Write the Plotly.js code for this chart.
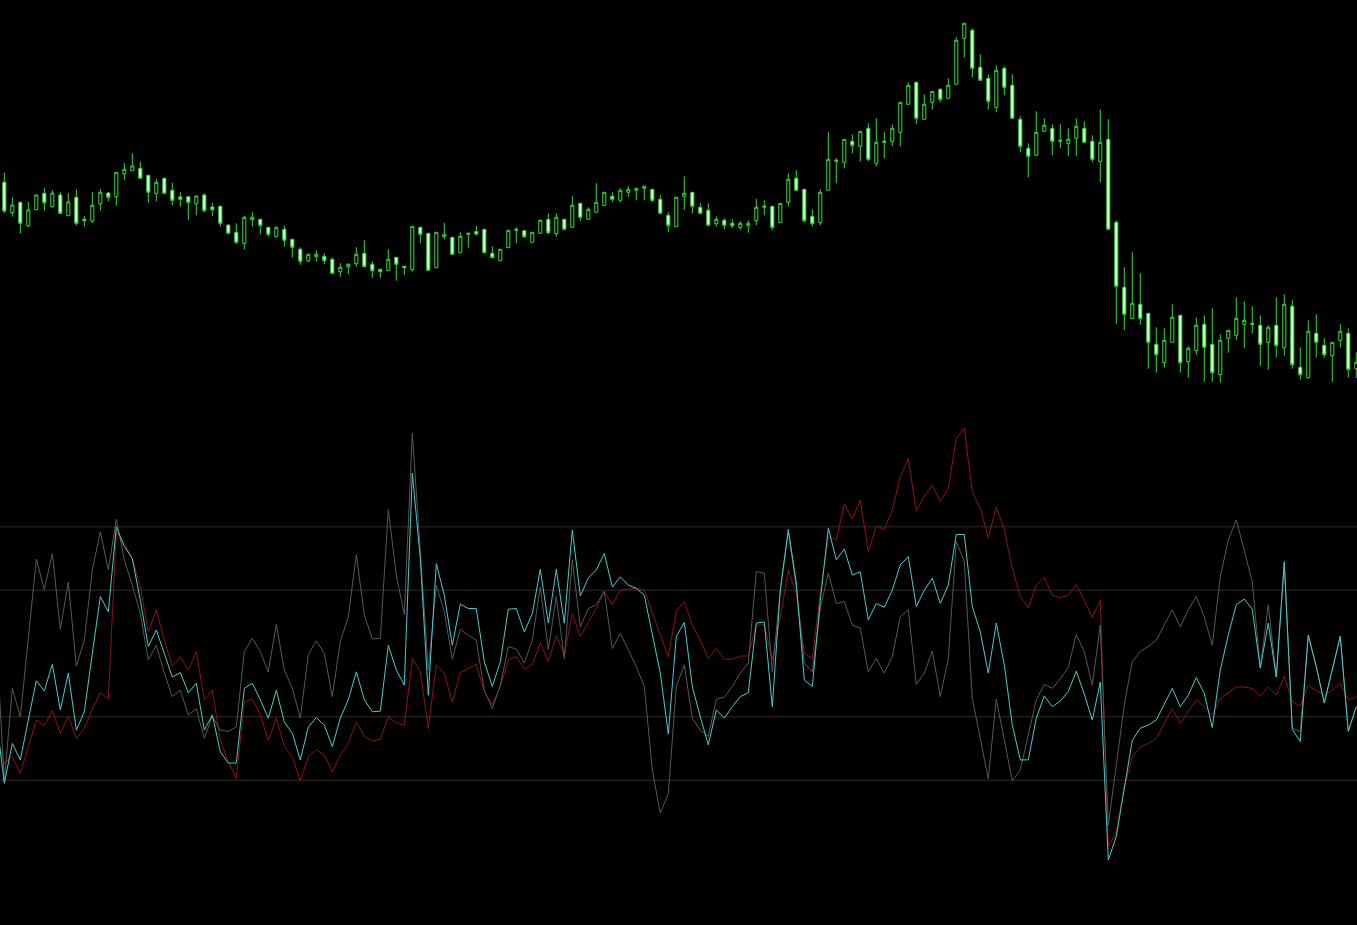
<!DOCTYPE html>
<html>
<head>
<meta charset="utf-8">
<script src="https://cdn.plot.ly/plotly-3.0.1.min.js"></script>
<style>
html,body{margin:0;padding:0;background:#000;overflow:hidden;}
#chart{width:1357px;height:925px;}
</style>
</head>
<body>
<div id="chart"></div>
<script>
// ---- Price candles (arbitrary price units) ----
const openP = [217.7,187.3,197.7,174.3,190.3,206.7,193.3,205,184.3,202.7,
180.7,179,196.3,207,203.3,226.3,229.3,231.7,224.7,206.7,
221.7,209.7,203,203.3,196.3,205,193,193.7,175,167.7,
156.7,180.3,180.7,172.7,163.3,170.7,160.7,150.7,139,143.3,
143.7,140.7,128.3,133.3,136.3,146.7,135.7,130.7,129.3,142.7,
133.7,130.3,172.7,166.7,132.3,163.3,162.7,147.3,165.7,168.3,
170.7,146.7,139.3,152.3,169.7,169.3,157.7,166.7,180.7,166.3,
180.7,172.7,196.7,180.7,187.7,194.7,203.7,199.7,207.7,209.7,
211.7,210.7,200.7,184.7,173.3,203.7,207.7,192.7,189.7,176.3,
179.7,176.7,172.7,174.7,179.3,192.7,193.7,177.3,197.7,221.7,
210.7,183.7,177.3,209.7,238.7,237.7,258.7,253.7,271.7,236.7,
258.7,258.7,267.7,295.7,317.7,280.7,297.7,310.7,301.7,315.7,
361.7,369.7,332.7,321.7,292.7,331.7,314.7,280.7,251.7,244.7,
268.7,271.7,258.7,256.7,261.7,271.7,258.7,238.7,260.7,177.7,
112.7,81.3,95.7,86.7,55.7,37.3,57.7,84.7,38.3,49.3,
75.7,55.7,25.3,61.7,64.7,75.7,76.7,74.7,57.7,74.7,
52.3,93.7,32.7,22.3,66.7,54.7,44.3,59.7,66.7,31.3];
const highP = [227.3,202.7,197.7,198,205,212.3,210,207.7,206.7,210.7,
184,208,211,208,227.7,237,246.7,238,224.7,221,
221.7,217,207.7,203.3,204,206.7,197,193.7,175,176.7,
184,188,180.7,172.7,173.3,174,160.7,152.7,146,149.7,
146.7,142.7,136.7,136.7,152.7,159.7,138.7,130.7,150.7,142.7,
133.7,173.7,172.7,166.7,168,177,162.7,167.7,166.7,174,
170.7,153.7,150.7,169.7,172.7,169.3,167.7,180.7,186.7,186.7,
180.7,203.7,196.7,192.7,216.7,208,207.7,211.7,214,211.7,
213.7,210.7,204.7,187.7,202.7,223.7,207.7,196.7,196.7,183.7,
181.7,180.7,178.7,179.7,201,199.7,193.7,196.7,226.7,229.7,
210.7,190.7,210.7,267.7,241.7,260.7,265.7,268.7,276.7,281.7,
267.7,275.7,297.7,317.7,317.7,305.7,308.7,311.7,321.7,362.7,
376.7,371.7,345.7,325.7,334.7,333.7,325.7,283.7,256.7,288.7,
281.7,275.7,275.7,271.7,281.7,278.7,264.7,290.7,280.7,179.7,
132.7,147.7,126.7,86.7,72.7,71.7,95.7,84.7,53.7,82.7,
84.7,91.7,65.7,69.7,102.7,98.7,93.7,84.7,74.7,102.7,
105.7,99.7,52.7,79.7,85.7,61.7,57.7,75.7,71.7,47.7];
const lowP = [186.7,183.3,166.7,172.7,190,189.3,192.3,186,184.3,174.3,
173.3,177,189.3,198.7,194.3,220,229.3,221.7,197.3,199,
206.7,194.7,193.3,180,184.7,187.7,184,173.3,166.7,155.7,
150.7,173.3,165.7,163.3,163.3,153.3,142.7,135.3,138,138.3,
136,126.7,123.3,125.7,133.3,133.3,122.3,122.3,129.3,119.3,
125,128.3,156.7,129,132,160.7,145.7,147.3,152.3,164.3,
147.3,142.3,139.3,152.3,156.7,162,157.7,166.7,165.7,163.3,
170.7,172.7,179.3,180.7,187.7,194,197.7,197.7,203.3,199.7,
199.7,197.7,186.7,167.7,173.3,190,186.7,186.7,174.7,173.3,
170.7,172,170,167.3,174.7,184.7,169.7,177.3,193.7,209.7,
177.7,173.3,174.7,209.7,216.7,231.7,246.7,238.7,238.7,233.7,
241.7,253.7,253.7,295.7,275.7,280.7,290.7,297.7,301.7,315.7,
342.7,322.7,319.7,290.7,287.7,304.7,281.7,247.7,222.7,244.7,
268.7,244.7,251.7,243.7,243.7,256.7,237.7,217.7,170.7,75.7,
69.7,81.3,75.3,31.3,27.3,32.3,57.7,27.3,22.3,45.3,
18.3,18.3,17.3,47.3,59.7,51.7,66.7,34.3,30.3,42.7,
44.3,31.3,20.3,21.3,42.7,42.3,18.3,52.7,22.3,22];
const closeP = [189,195,176.7,190,205,197.3,207,186.7,198,176.7,
179.3,194.7,207.7,202.7,227.7,230.7,234,221.7,207.7,217.7,
206.7,199.7,200.7,197.7,204,189.3,190.3,176.7,166.7,157.7,
182.7,182.7,174.7,165.7,172.7,159.7,152.7,138.7,145.7,145.7,
139.3,126.7,132.7,135.7,145.7,133.3,129.3,128.3,140.7,135.7,
132.3,173.7,165.7,129.7,167.7,165.7,145.7,163.7,166.7,166,
147.3,142.3,150.7,169.7,170.7,163.3,167.7,179.7,167.3,182.7,
170.7,194.7,182.7,190.7,197.7,207.7,200.7,209.7,210.7,211.7,
213.7,199.7,186.7,174.7,202.7,206.7,193.7,186.7,174.7,180.7,
174.7,174.3,176.7,176.7,192.7,193.7,172.7,196.7,220.7,209.7,
179.3,176.3,207.7,240.7,239.7,260.7,254.7,268.7,240.7,257.7,
257.7,271.7,297.7,314.7,281.7,295.7,308.7,300.7,314.7,359.7,
376.7,331.7,319.7,298.7,329.7,312.7,281.7,253.7,243.7,267.7,
274.7,258.7,259.7,260.7,273.7,257.7,240.7,257.7,170.7,113.7,
85.7,96.7,81.3,57.7,45.3,59.7,82.7,37.3,51.7,74.7,
52.7,27.3,59.7,69.7,81.7,79.7,75.7,55.7,72.7,54.7,
95.7,35.3,25.3,68.7,57.7,45.3,57.7,68.7,30.7,37.7];

// ---- Oscillator lines (first value sits one bar left of the first candle) ----
const fastLine = [24,-202,-55,-100,24,149,101,158,38,113,
-20,21,132,192,132,212,148,108,63,-10,
13,-31,-68,-58,-97,-87,-134,-99,-121,-123,
-116,3,24,3,-29,46,-26,-55,-102,-2,
20,0,-68,19,58,156,61,23,24,227,
124,61,348,156,-26,108,66,-9,38,29,
21,-58,-87,-50,11,7,-15,21,105,6,
90,-8,148,42,71,77,98,8,32,6,
-21,-52,-184,-252,-221,-52,-18,-102,-121,-131,
-72,-69,-52,-31,-15,129,127,-29,100,192,
105,-15,-29,71,127,79,82,45,40,-29,
-8,-31,-5,58,69,-49,-31,4,-68,-8,
177,145,-71,-134,-198,-72,-139,-201,-184,-129,
-73,-49,-55,-40,-22,30,3,-50,45,-271,
-176,-81,-13,3,11,21,45,69,42,69,
90,58,13,121,179,211,163,113,-23,77,
-37,140,-118,-123,29,-21,-78,-26,27,-123,
-84];
const midLine = [-103,-205,-142,-168,-105,-43,-59,-17,-89,-31,
-121,-92,0,90,66,200,169,150,84,11,
37,0,-37,-30,-62,-47,-121,-97,-155,-173,
-173,-55,-47,-73,-102,-58,-108,-126,-168,-116,
-101,-113,-147,-102,-73,-29,-73,-92,-91,13,
-26,-50,285,150,-66,142,92,13,78,71,
71,-13,-52,-13,70,71,34,63,133,48,
133,48,195,91,119,132,158,105,121,108,
103,92,32,-31,-127,27,49,-52,-100,-144,
-89,-102,-84,-68,-62,48,50,-84,100,196,
111,-42,-52,84,198,148,165,124,129,53,
79,73,100,140,153,74,100,119,79,108,
188,188,74,34,-31,48,-18,-113,-168,-168,
-102,-67,-84,-75,-60,-28,-64,-105,-45,-326,
-289,-212,-137,-118,-113,-105,-81,-55,-84,-66,
-38,-63,-117,-26,29,77,86,70,-23,48,
-37,145,-120,-139,29,-21,-78,-26,27,-123,
-84];
const slowLine = [-129,-173,-163,-189,-147,-105,-114,-90,-126,-99,
-134,-118,-88,-62,-71,192,174,150,105,34,
69,21,-20,-5,-26,3,-73,-58,-137,-171,
-197,-76,-72,-97,-138,-102,-147,-163,-201,-163,
-152,-160,-187,-160,-142,-108,-131,-138,-135,-100,
-110,-113,-8,-29,-118,-18,-31,-77,-30,-23,
-17,-60,-81,-52,-10,-5,-25,-17,17,-13,
28,-2,63,27,50,71,98,77,100,101,
103,100,63,29,-5,67,82,45,21,-8,
8,-9,-9,-4,-4,45,45,-10,58,132,
95,0,-8,95,184,179,236,212,242,161,
201,196,227,279,308,225,248,266,240,261,
340,356,255,229,182,232,195,135,90,72,
108,120,92,88,92,109,84,57,84,-305,
-283,-210,-163,-148,-142,-134,-110,-87,-110,-92,
-73,-84,-97,-71,-62,-53,-53,-55,-67,-53,
-66,-36,-76,-83,-51,-58,-66,-58,-47,-73,
-68];
const levels = [200, 100, -100, -200];

const candleX = openP.map((_, i) => i);
const lineX = fastLine.map((_, i) => i - 1);

const green = '#36d936';
const traces = [
  {
    type: 'candlestick', x: candleX, open: openP, high: highP, low: lowP, close: closeP,
    xaxis: 'x', yaxis: 'y',
    increasing: {line: {color: green, width: 1}, fillcolor: '#000000'},
    decreasing: {line: {color: green, width: 1}, fillcolor: '#e2ffe2'},
    whiskerwidth: 0, hoverinfo: 'skip', showlegend: false
  },
  {type: 'scatter', mode: 'lines', x: lineX, y: slowLine, xaxis: 'x', yaxis: 'y2',
   line: {color: '#8c1414', width: 1}, hoverinfo: 'skip', showlegend: false},
  {type: 'scatter', mode: 'lines', x: lineX, y: fastLine, xaxis: 'x', yaxis: 'y2',
   line: {color: '#585858', width: 1}, hoverinfo: 'skip', showlegend: false},
  {type: 'scatter', mode: 'lines', x: lineX, y: midLine, xaxis: 'x', yaxis: 'y2',
   line: {color: '#48cccc', width: 1}, hoverinfo: 'skip', showlegend: false}
];

const shapes = levels.map(v => ({
  type: 'line', xref: 'paper', x0: 0, x1: 1, yref: 'y2', y0: v, y1: v,
  line: {color: '#2e2e2e', width: 1}, layer: 'below'
}));

const layout = {
  width: 1357, height: 925,
  margin: {l: 0, r: 0, t: 0, b: 0, pad: 0},
  paper_bgcolor: '#000000', plot_bgcolor: '#000000',
  showlegend: false,
  boxgap: 0.45,
  xaxis: {range: [-0.54, 169.09], visible: false, showgrid: false, zeroline: false,
          rangeslider: {visible: false}, fixedrange: true},
  yaxis: {range: [-525, 400], visible: false, showgrid: false, zeroline: false, fixedrange: true},
  yaxis2: {range: [-428.7, 1031.9], overlaying: 'y', visible: false, showgrid: false,
           zeroline: false, fixedrange: true},
  shapes: shapes
};

Plotly.newPlot('chart', traces, layout, {staticPlot: true, displayModeBar: false});
</script>
</body>
</html>
